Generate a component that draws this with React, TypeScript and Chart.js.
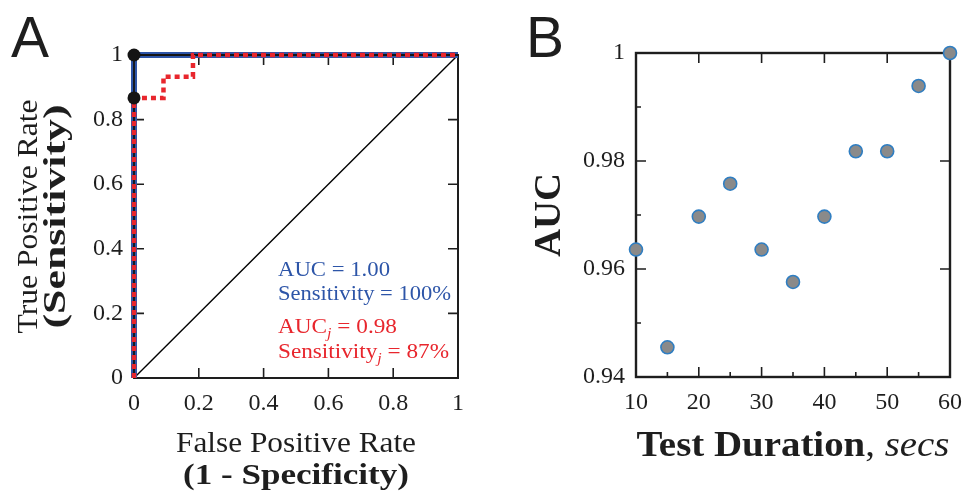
import React, { useEffect, useRef } from "react";
import { Chart, registerables } from "chart.js";

Chart.register(...registerables);

// ---------- Panel A data (ROC) ----------
const rocTicks = [0, 0.2, 0.4, 0.6, 0.8, 1];
const rocTickLabels = ["0", "0.2", "0.4", "0.6", "0.8", "1"];
const modelFpr = [0, 0, 1];
const modelTpr = [0, 1, 1];
const modelJFpr = [0, 0, 0.091, 0.091, 0.182, 0.182, 1];
const modelJTpr = [0, 0.867, 0.867, 0.933, 0.933, 1, 1];
const chanceFpr = [0, 1];
const chanceTpr = [0, 1];
const operatingFpr = [0, 0];
const operatingTpr = [1, 0.867];

// ---------- Panel B data ----------
const durations = [10, 15, 20, 25, 30, 35, 40, 45, 50, 55, 60];
const aucByDuration = [0.9636, 0.9455, 0.9697, 0.9758, 0.9636, 0.9576, 0.9697, 0.9818, 0.9818, 0.9939, 1.0];
const durationTicks = [10, 20, 30, 40, 50, 60];
const durationTickLabels = ["10", "20", "30", "40", "50", "60"];
const durationMinorTicks = [15, 25, 35, 45, 55];
const aucTicks = [0.94, 0.96, 0.98, 1];
const aucTickLabels = ["0.94", "0.96", "0.98", "1"];
const aucMinorTicks = [0.95, 0.97, 0.99];

const W = 973;
const H = 492;
const SERIF = "'Liberation Serif', 'Times New Roman', serif";
const SANS = "'Liberation Sans', Arial, sans-serif";
const INK = "#1e1e1e";
const BLUE = "#2d55a8";
const RED = "#e8262d";

const pts = (xs: number[], ys: number[]) => xs.map((x, i) => ({ x, y: ys[i] }));

type Seg = { t: string; font: string; dy?: number };

// Draws a run of text segments; if target is given, stretches the run horizontally to that width.
function drawRich(
  ctx: CanvasRenderingContext2D,
  segs: Seg[],
  x: number,
  y: number,
  align: "left" | "center",
  target?: number
) {
  let natural = 0;
  for (const s of segs) {
    ctx.font = s.font;
    natural += ctx.measureText(s.t).width;
  }
  const sx = target ? target / natural : 1;
  const total = natural * sx;
  const startX = align === "center" ? x - total / 2 : x;
  ctx.save();
  ctx.translate(startX, y);
  ctx.scale(sx, 1);
  ctx.textAlign = "left";
  ctx.textBaseline = "alphabetic";
  let cx = 0;
  for (const s of segs) {
    ctx.font = s.font;
    ctx.fillText(s.t, cx, s.dy || 0);
    cx += ctx.measureText(s.t).width;
  }
  ctx.restore();
}

function drawRichRotated(ctx: CanvasRenderingContext2D, segs: Seg[], x: number, y: number, target?: number) {
  ctx.save();
  ctx.translate(x, y);
  ctx.rotate(-Math.PI / 2);
  drawRich(ctx, segs, 0, 0, "center", target);
  ctx.restore();
}

function drawFrameTicks(
  chart: any,
  xMajor: number[],
  yMajor: number[],
  xMinor: number[],
  yMinor: number[],
  lw: number
) {
  const ctx = chart.ctx as CanvasRenderingContext2D;
  const { left, right, top, bottom } = chart.chartArea;
  const xs = chart.scales.x;
  const ys = chart.scales.y;
  ctx.save();
  ctx.strokeStyle = INK;
  ctx.lineWidth = lw;
  ctx.strokeRect(left, top, right - left, bottom - top);
  ctx.lineWidth = 1.6;
  ctx.beginPath();
  const major = 10;
  const minor = 5;
  for (const v of xMajor) {
    const px = xs.getPixelForValue(v);
    ctx.moveTo(px, bottom);
    ctx.lineTo(px, bottom - major);
    ctx.moveTo(px, top);
    ctx.lineTo(px, top + major);
  }
  for (const v of yMajor) {
    const py = ys.getPixelForValue(v);
    ctx.moveTo(left, py);
    ctx.lineTo(left + major, py);
    ctx.moveTo(right, py);
    ctx.lineTo(right - major, py);
  }
  for (const v of xMinor) {
    const px = xs.getPixelForValue(v);
    ctx.moveTo(px, bottom);
    ctx.lineTo(px, bottom - minor);
  }
  for (const v of yMinor) {
    const py = ys.getPixelForValue(v);
    ctx.moveTo(left, py);
    ctx.lineTo(left + minor, py);
  }
  ctx.stroke();
  ctx.restore();
}

const rocPlugin = {
  id: "rocDecor",
  beforeDatasetsDraw(chart: any) {
    drawFrameTicks(chart, rocTicks, rocTicks, [], [], 2);
  },
  afterDraw(chart: any) {
    const ctx = chart.ctx as CanvasRenderingContext2D;
    const { left, right, top, bottom } = chart.chartArea;
    const cx = (left + right) / 2;
    const cy = (top + bottom) / 2;
    ctx.save();
    ctx.fillStyle = INK;
    // panel letter
    ctx.font = `57px ${SANS}`;
    ctx.textAlign = "left";
    ctx.textBaseline = "alphabetic";
    ctx.fillText("A", 11, 57);
    // axis titles
    drawRich(ctx, [{ t: "False Positive Rate", font: `30px ${SERIF}` }], cx, 452, "center", 240);
    drawRich(ctx, [{ t: "(1 - Specificity)", font: `bold 30px ${SERIF}` }], cx, 484, "center", 226);
    drawRichRotated(ctx, [{ t: "True Positive Rate", font: `30px ${SERIF}` }], 37, cy, 234);
    drawRichRotated(ctx, [{ t: "(Sensitivity)", font: `bold 31px ${SERIF}` }], 65, cy, 224);
    // annotations
    const f = `22px ${SERIF}`;
    const sub = `italic 15px ${SERIF}`;
    ctx.fillStyle = BLUE;
    drawRich(ctx, [{ t: "AUC = 1.00", font: f }], 278, 276, "left", 112);
    drawRich(ctx, [{ t: "Sensitivity = 100%", font: f }], 278, 300, "left", 173);
    ctx.fillStyle = RED;
    drawRich(ctx, [{ t: "AUC", font: f }, { t: "j", font: sub, dy: 5 }, { t: " = 0.98", font: f }], 278, 333, "left", 119);
    drawRich(ctx, [{ t: "Sensitivity", font: f }, { t: "j", font: sub, dy: 5 }, { t: " = 87%", font: f }], 278, 358, "left", 171);
    ctx.restore();
  },
};

const durPlugin = {
  id: "durDecor",
  beforeDatasetsDraw(chart: any) {
    drawFrameTicks(chart, durationTicks, aucTicks, durationMinorTicks, aucMinorTicks, 2.4);
  },
  afterDraw(chart: any) {
    const ctx = chart.ctx as CanvasRenderingContext2D;
    const { left, right, top, bottom } = chart.chartArea;
    const cx = (left + right) / 2;
    const cy = (top + bottom) / 2;
    ctx.save();
    ctx.fillStyle = INK;
    ctx.font = `57px ${SANS}`;
    ctx.textAlign = "left";
    ctx.textBaseline = "alphabetic";
    ctx.fillText("B", 526, 57);
    drawRichRotated(ctx, [{ t: "AUC", font: `bold 37px ${SERIF}` }], 560, cy, 84);
    drawRich(
      ctx,
      [
        { t: "Test Duration", font: `bold 35px ${SERIF}` },
        { t: ", ", font: `35px ${SERIF}` },
        { t: "secs", font: `italic 35px ${SERIF}` },
      ],
      cx,
      456,
      "center",
      313
    );
    ctx.restore();
  },
};

const tickFont = { family: SERIF, size: 24 };

function linearAxis(ticks: number[], labels: string[], min: number, max: number, fit: (s: any) => void) {
  return {
    type: "linear" as const,
    min,
    max,
    afterBuildTicks: (s: any) => {
      s.ticks = ticks.map((v) => ({ value: v }));
    },
    afterFit: fit,
    ticks: {
      callback: (v: number) => {
        const i = ticks.findIndex((t) => Math.abs(t - v) < 1e-9);
        return i >= 0 ? labels[i] : "";
      },
      font: tickFont,
      color: INK,
      padding: 11,
      maxRotation: 0,
      autoSkip: false,
    },
    grid: { display: false, drawTicks: false },
    border: { display: false },
  };
}

export default function App() {
  const refA = useRef<HTMLCanvasElement | null>(null);
  const refB = useRef<HTMLCanvasElement | null>(null);

  useEffect(() => {
    const chartA = new Chart(refA.current as HTMLCanvasElement, {
      type: "scatter",
      data: {
        datasets: [
          {
            data: pts(operatingFpr, operatingTpr),
            pointRadius: 6.5,
            pointBackgroundColor: "#141414",
            pointBorderWidth: 0,
            showLine: false,
            order: 1,
            clip: false,
          } as any,
          {
            data: pts(modelJFpr, modelJTpr),
            showLine: true,
            pointRadius: 0,
            borderColor: RED,
            borderWidth: 4.5,
            borderDash: [5, 4],
            borderCapStyle: "butt",
            order: 2,
            clip: false,
          },
          {
            data: pts(modelFpr, modelTpr),
            showLine: true,
            pointRadius: 0,
            borderColor: "#141414",
            borderWidth: 1.8,
            order: 3,
            clip: false,
          },
          {
            data: pts(modelFpr, modelTpr),
            showLine: true,
            pointRadius: 0,
            borderColor: BLUE,
            borderWidth: 6,
            order: 4,
            clip: false,
          },
          {
            data: pts(chanceFpr, chanceTpr),
            showLine: true,
            pointRadius: 0,
            borderColor: "#000000",
            borderWidth: 1.4,
            order: 5,
            clip: false,
          },
        ],
      },
      options: {
        animation: false,
        responsive: false,
        devicePixelRatio: 1,
        layout: { padding: { left: 0, top: 55, right: W - 458, bottom: 0 } },
        plugins: { legend: { display: false }, tooltip: { enabled: false } },
        scales: {
          x: linearAxis(rocTicks, rocTickLabels, 0, 1, (s: any) => {
            s.height = H - 378;
          }),
          y: linearAxis(rocTicks, rocTickLabels, 0, 1, (s: any) => {
            s.width = 134;
          }),
        } as any,
      },
      plugins: [rocPlugin],
    });

    const chartB = new Chart(refB.current as HTMLCanvasElement, {
      type: "scatter",
      data: {
        datasets: [
          {
            data: pts(durations, aucByDuration),
            pointRadius: 6.5,
            pointBackgroundColor: "#8a8a8a",
            pointBorderColor: "#2f7ec2",
            pointBorderWidth: 1.6,
            showLine: false,
            clip: false,
          } as any,
        ],
      },
      options: {
        animation: false,
        responsive: false,
        devicePixelRatio: 1,
        layout: { padding: { left: 486, top: 53, right: W - 960, bottom: 0 } },
        plugins: { legend: { display: false }, tooltip: { enabled: false } },
        scales: {
          x: linearAxis(durationTicks, durationTickLabels, 10, 60, (s: any) => {
            s.height = H - 377;
          }),
          y: linearAxis(aucTicks, aucTickLabels, 0.94, 1, (s: any) => {
            s.width = 636 - 486;
          }),
        } as any,
      },
      plugins: [durPlugin],
    });

    return () => {
      chartA.destroy();
      chartB.destroy();
    };
  }, []);

  const canvasStyle: React.CSSProperties = {
    position: "absolute",
    left: 0,
    top: 0,
    width: W,
    height: H,
  };

  return (
    <div style={{ position: "absolute", left: 0, top: 0, width: W, height: H, background: "#ffffff" }}>
      <canvas ref={refA} width={W} height={H} style={canvasStyle} />
      <canvas ref={refB} width={W} height={H} style={canvasStyle} />
    </div>
  );
}
